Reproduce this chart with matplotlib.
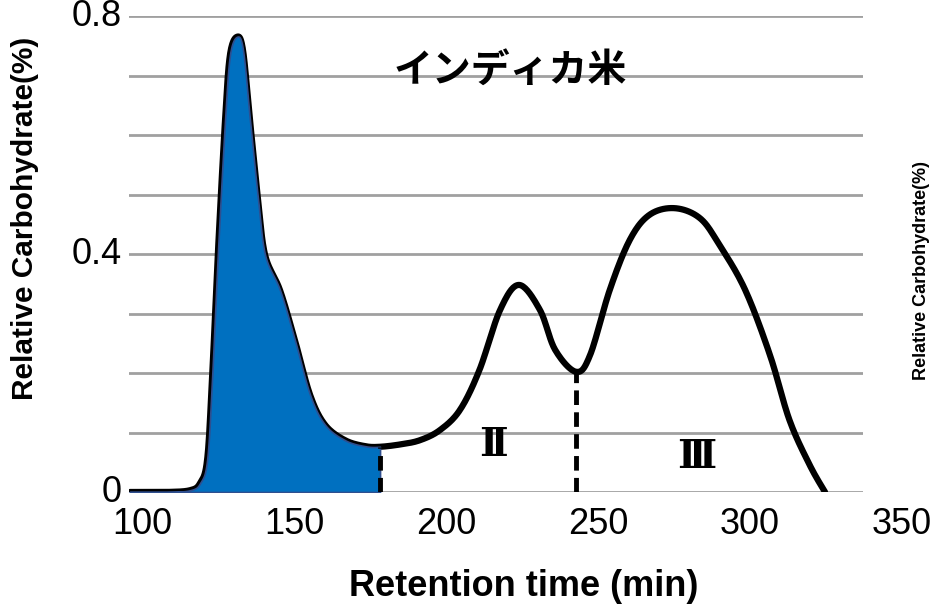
import numpy as np
import matplotlib
matplotlib.use("Agg")
import matplotlib.pyplot as plt
import matplotlib.transforms as mtransforms

plt.rcParams['font.family'] = ['Liberation Sans', 'Noto Sans CJK JP', 'DejaVu Sans']

# Elution curve (retention time in min, relative carbohydrate in %)
RetTime = [96, 108, 115.8, 119.1, 121.4, 123.0, 125.0, 127.3, 128.9, 131.2, 133.2, 135.5,
           138.2, 140.5, 145.4, 150.3, 155.3, 160.2, 166.8, 173.4, 178.3,
           185.0, 191.4, 198.0, 204.6, 211.0, 217.8, 224.0, 230.9, 235.9, 242.8,
           247.4, 253.9, 260.5, 267.0, 275.3, 283.6, 290.0, 298.4, 306.6, 313.0, 319.7, 324.7]
Carb = [0.0, 0.0, 0.003, 0.015, 0.054, 0.188, 0.407, 0.625, 0.734, 0.765, 0.743, 0.625,
        0.49, 0.398, 0.339, 0.255, 0.163, 0.113, 0.087, 0.077, 0.076,
        0.080, 0.087, 0.104, 0.138, 0.205, 0.306, 0.348, 0.306, 0.239, 0.202,
        0.23, 0.34, 0.424, 0.466, 0.477, 0.46, 0.415, 0.34, 0.23, 0.121, 0.045, 0.0]

FillEnd   = 178.3    # end of the blue shaded fraction (I)
SplitTime = 242.8    # border between fraction II and III
FracLabels = ["Ⅱ", "Ⅲ"]
FracPos    = [(215.5, 0.079), (282.6, 0.059)]

XTicks = [100, 150, 200, 250, 300, 350]
YTicks = [0, 0.4, 0.8]
YTickLabels = ["0", "0.4", "0.8"]


def catmull_rom(px, py, n=20):
    # smooth curve through the traced points
    px = np.asarray(px, float)
    py = np.asarray(py, float)
    P = np.column_stack([px, py])
    P = np.vstack([P[0], P, P[-1]])
    out = []
    for i in range(1, len(P) - 2):
        p0, p1, p2, p3 = P[i-1], P[i], P[i+1], P[i+2]
        t = np.linspace(0, 1, n, endpoint=False)[:, None]
        seg = 0.5 * ((2*p1) + (-p0 + p2)*t + (2*p0 - 5*p1 + 4*p2 - p3)*t**2 + (-p0 + 3*p1 - 3*p2 + p3)*t**3)
        out.append(seg)
    out.append(P[-2][None, :])
    out = np.vstack(out)
    return out[:, 0], np.clip(out[:, 1], 0, None)


W, H = 933, 605
fig = plt.figure(figsize=(W/100, H/100), dpi=100)
ax = fig.add_axes([129/W, 1 - 492/H, (863-129)/W, (492-16)/H])

xs, ys = catmull_rom(RetTime, Carb)

m = xs <= FillEnd
ax.fill_between(xs[m], 0, ys[m], color='#0070C0', edgecolor='#2F4F8F', lw=1.2, zorder=3)
ax.plot(xs, ys, color='black', lw=4.5, zorder=2, solid_capstyle='round', solid_joinstyle='round')

dash = (0, (3, 1.5))
ax.plot([FillEnd, FillEnd], [0, np.interp(FillEnd, xs, ys)], color='black', lw=3.5, ls=dash, zorder=4)
ax.plot([SplitTime, SplitTime], [0, np.interp(SplitTime, xs, ys)], color='black', lw=3.5, ls=dash, zorder=4)

for lab, (px, py) in zip(FracLabels, FracPos):
    ax.text(px, py, lab, fontsize=28, fontweight='bold', ha='center', va='center',
            family=['DejaVu Serif', 'Noto Sans CJK JP'])

ax.text(0.52, 0.885, "インディカ米", transform=ax.transAxes, ha='center', va='center',
        fontsize=28, fontweight='bold', family=['Noto Sans CJK JP'])

ax.set_xlim(95.7, 337.2)
ax.set_ylim(0, 0.8)
grid_y = np.round(np.arange(0, 0.81, 0.1), 1)
ax.set_yticks(grid_y)
ax.set_yticklabels([YTickLabels[YTicks.index(v)] if v in YTicks else "" for v in grid_y])
ax.set_xticks([t for t in XTicks if t <= 337])
ax.tick_params(axis='both', length=0, labelsize=26)
ax.tick_params(axis='x', pad=11)
ax.tick_params(axis='y', pad=5)
# lift the y labels a little so "0" clears the "100"
up = mtransforms.ScaledTranslation(0, 4/100, fig.dpi_scale_trans)
for lbl in ax.get_yticklabels():
    lbl.set_transform(lbl.get_transform() + up)
ax.text(350, -0.031, "350", transform=ax.get_xaxis_transform(), ha='center', va='top',
        fontsize=26, clip_on=False)
ax.yaxis.grid(True, color='#A0A0A0', lw=2)
ax.set_axisbelow(True)
for s in ax.spines.values():
    s.set_visible(False)

fig.text(25/W, 1 - 218/H, "Relative Carbohydrate(%)", rotation=90, ha='center', va='center',
         fontsize=21.5, fontweight='bold')
fig.text(524/W, 1 - 586/H, "Retention time (min)", ha='center', va='center',
         fontsize=26, fontweight='bold')
# label of the neighbouring panel at the right edge
fig.text(930/W, 1 - 270/H, "Relative Carbohydrate(%)", rotation=90, ha='right', va='center',
         fontsize=13, fontweight='bold')

fig.savefig("out.png", dpi=100)
